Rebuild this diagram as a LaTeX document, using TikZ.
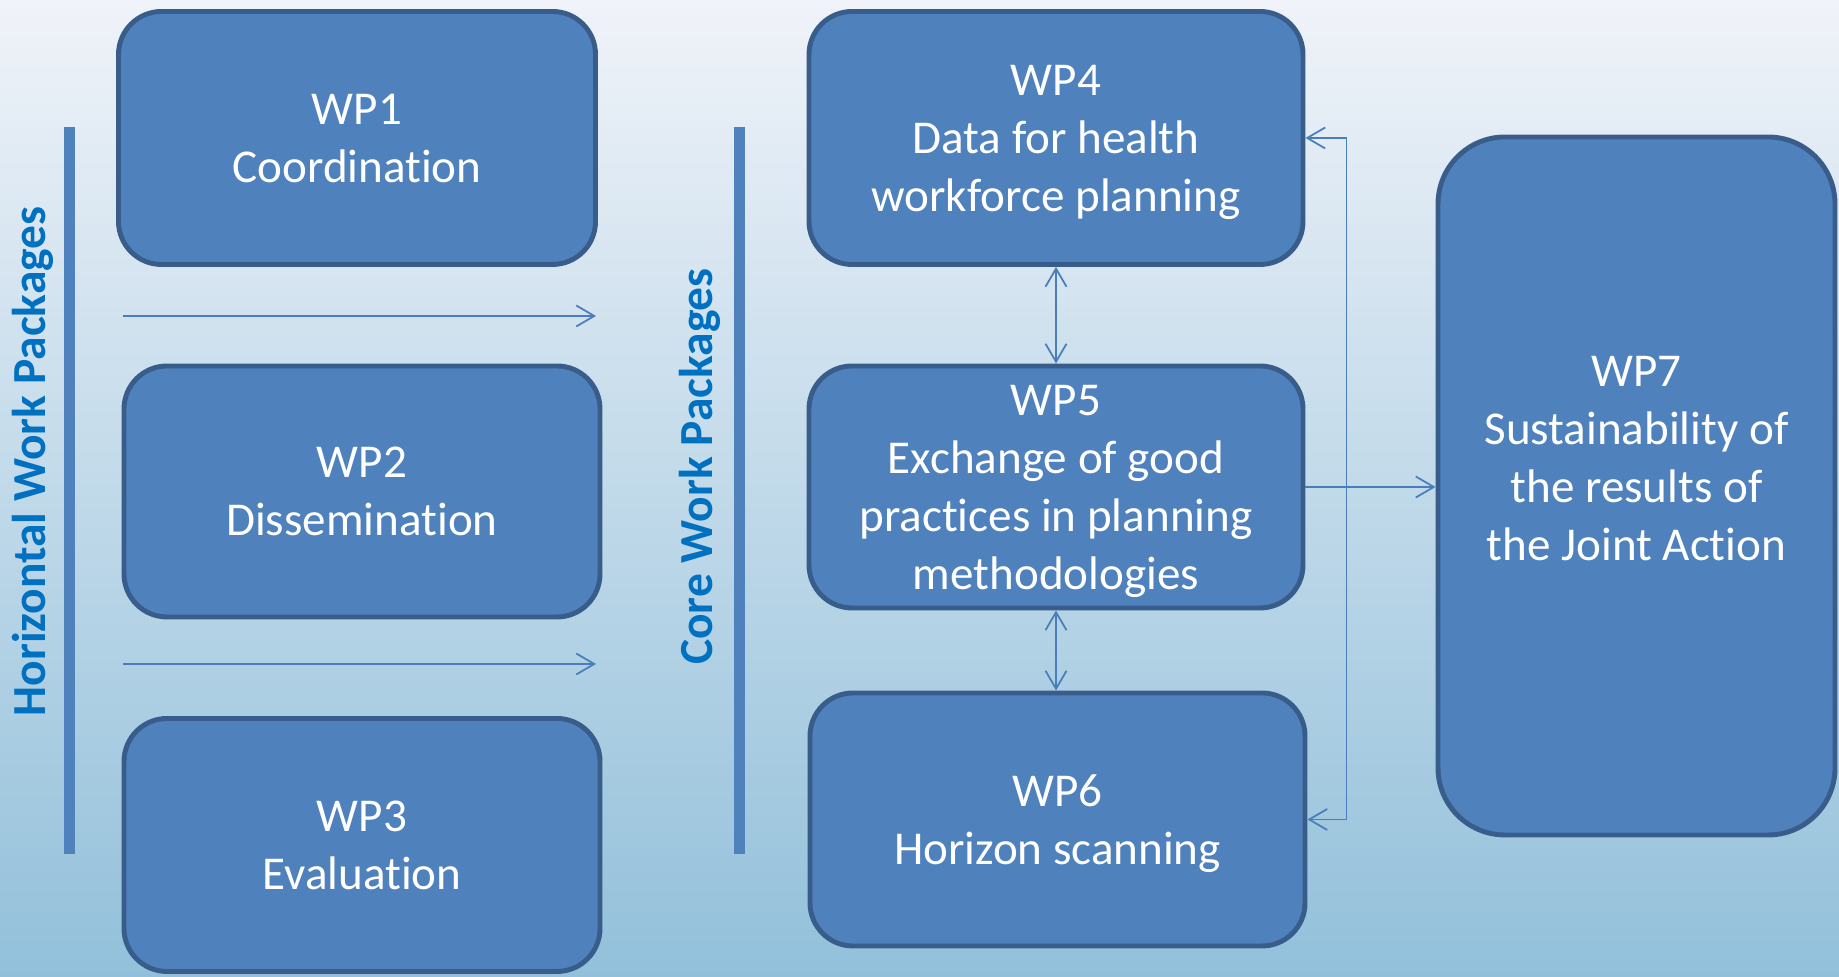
\documentclass[tikz,border=0pt]{standalone}
\usepackage{fontspec}
\setmainfont{Carlito}[Ligatures=NoCommon]
\definecolor{boxblue}{RGB}{79, 129, 189}
\definecolor{edgeblue}{RGB}{56, 93, 138}
\definecolor{linkblue}{RGB}{74, 126, 187}
\definecolor{titleblue}{RGB}{0, 112, 192}
\definecolor{bgtop}{RGB}{240, 243, 249}
\definecolor{bgmid}{RGB}{206, 221, 236}
\definecolor{bgbottom}{RGB}{146, 192, 218}
\usetikzlibrary{arrows.meta, positioning, calc}

\begin{document}
\begin{tikzpicture}[
    wpbox/.style={draw=edgeblue, fill=boxblue, line width=1.4pt, rounded corners=0.43cm,
      text=white, align=center, font=\fontsize{13.4}{16.5}\selectfont},
    smallbox/.style={wpbox, text depth=-0.1cm, minimum width=4.77cm, minimum height=2.53cm},
    wptext/.style={text=white, align=center, font=\fontsize{13.4}{16.5}\selectfont},
    link/.style={linkblue, line width=0.5pt, {Straight Barb[length=1.8mm, width=2.1mm]}-{Straight Barb[length=1.8mm, width=2.1mm]}},
    tolink/.style={linkblue, line width=0.5pt, -{Straight Barb[length=1.8mm, width=2.1mm]}},
    sidebar/.style={boxblue, line width=0.11cm},
    sidelabel/.style={rotate=90, anchor=base, text=titleblue, font=\fontsize{13.5}{16.5}\selectfont\bfseries}
  ]
  % background
  \shade[top color=bgtop, middle color=bgmid, bottom color=bgbottom] (0, 0) rectangle (18.39, 9.77);
  \useasboundingbox (0, 0) rectangle (18.39, 9.77);

  % Horizontal work packages
  \draw[sidebar] (0.69, 8.50) -- (0.69, 1.23);
  \node[sidelabel] (hlabel) at (0.45, 5.155) {Horizontal Work Packages};
  \node[smallbox] (wp1) at (3.57, 8.39) {WP1\\Coordination};
  \node[smallbox, minimum width=4.76cm, minimum height=2.51cm] (wp2) at (3.62, 4.855) {WP2\\Dissemination};
  \node[smallbox, minimum width=4.76cm] (wp3) at (3.62, 1.32) {WP3\\Evaluation};

  \coordinate (a1s) at (1.23, 6.61);
  \coordinate (a1e) at (5.96, 6.61);
  \coordinate (a2s) at (1.23, 3.13);
  \coordinate (a2e) at (5.96, 3.13);
  \draw[tolink] (a1s) -- (a1e);
  \draw[tolink] (a2s) -- (a2e);

  % Core work packages
  \draw[sidebar] (7.39, 8.50) -- (7.39, 1.23);
  \node[sidelabel] (clabel) at (7.12, 5.105) {Core Work Packages};
  \node[smallbox, minimum width=4.94cm] (wp4) at (10.56, 8.39) {WP4\\Data for health\\workforce planning};
  \node[smallbox, minimum width=4.94cm, minimum height=2.42cm] (wp5) at (10.56, 4.90) {WP5\\Exchange of good\\practices in planning\\methodologies};
  \node[smallbox, minimum width=4.95cm] (wp6) at (10.575, 1.575) {WP6\\Horizon scanning};

  \draw[link] (wp4.south) -- (wp5.north);
  \draw[link] (wp5.south) -- (wp5.south |- wp6.north);

  % Sustainability
  \node[wpbox, rounded corners=0.67cm, minimum width=3.97cm, minimum height=6.98cm] (wp7) at (16.365, 4.91) {};
  \node[wptext] (wp7text) at ($(wp7.center)+(0, 0.27)$) {WP7\\Sustainability of\\the results of\\the Joint Action};

  \coordinate (split) at ($(wp5.east)+(0.41, 0)$);
  \draw[tolink] (wp5.east) -- (wp5.east -| wp7.west);
  \draw[tolink] (split) |- (wp4.east);
  \draw[tolink] (split) |- (wp6.east);
\end{tikzpicture}
\end{document}
